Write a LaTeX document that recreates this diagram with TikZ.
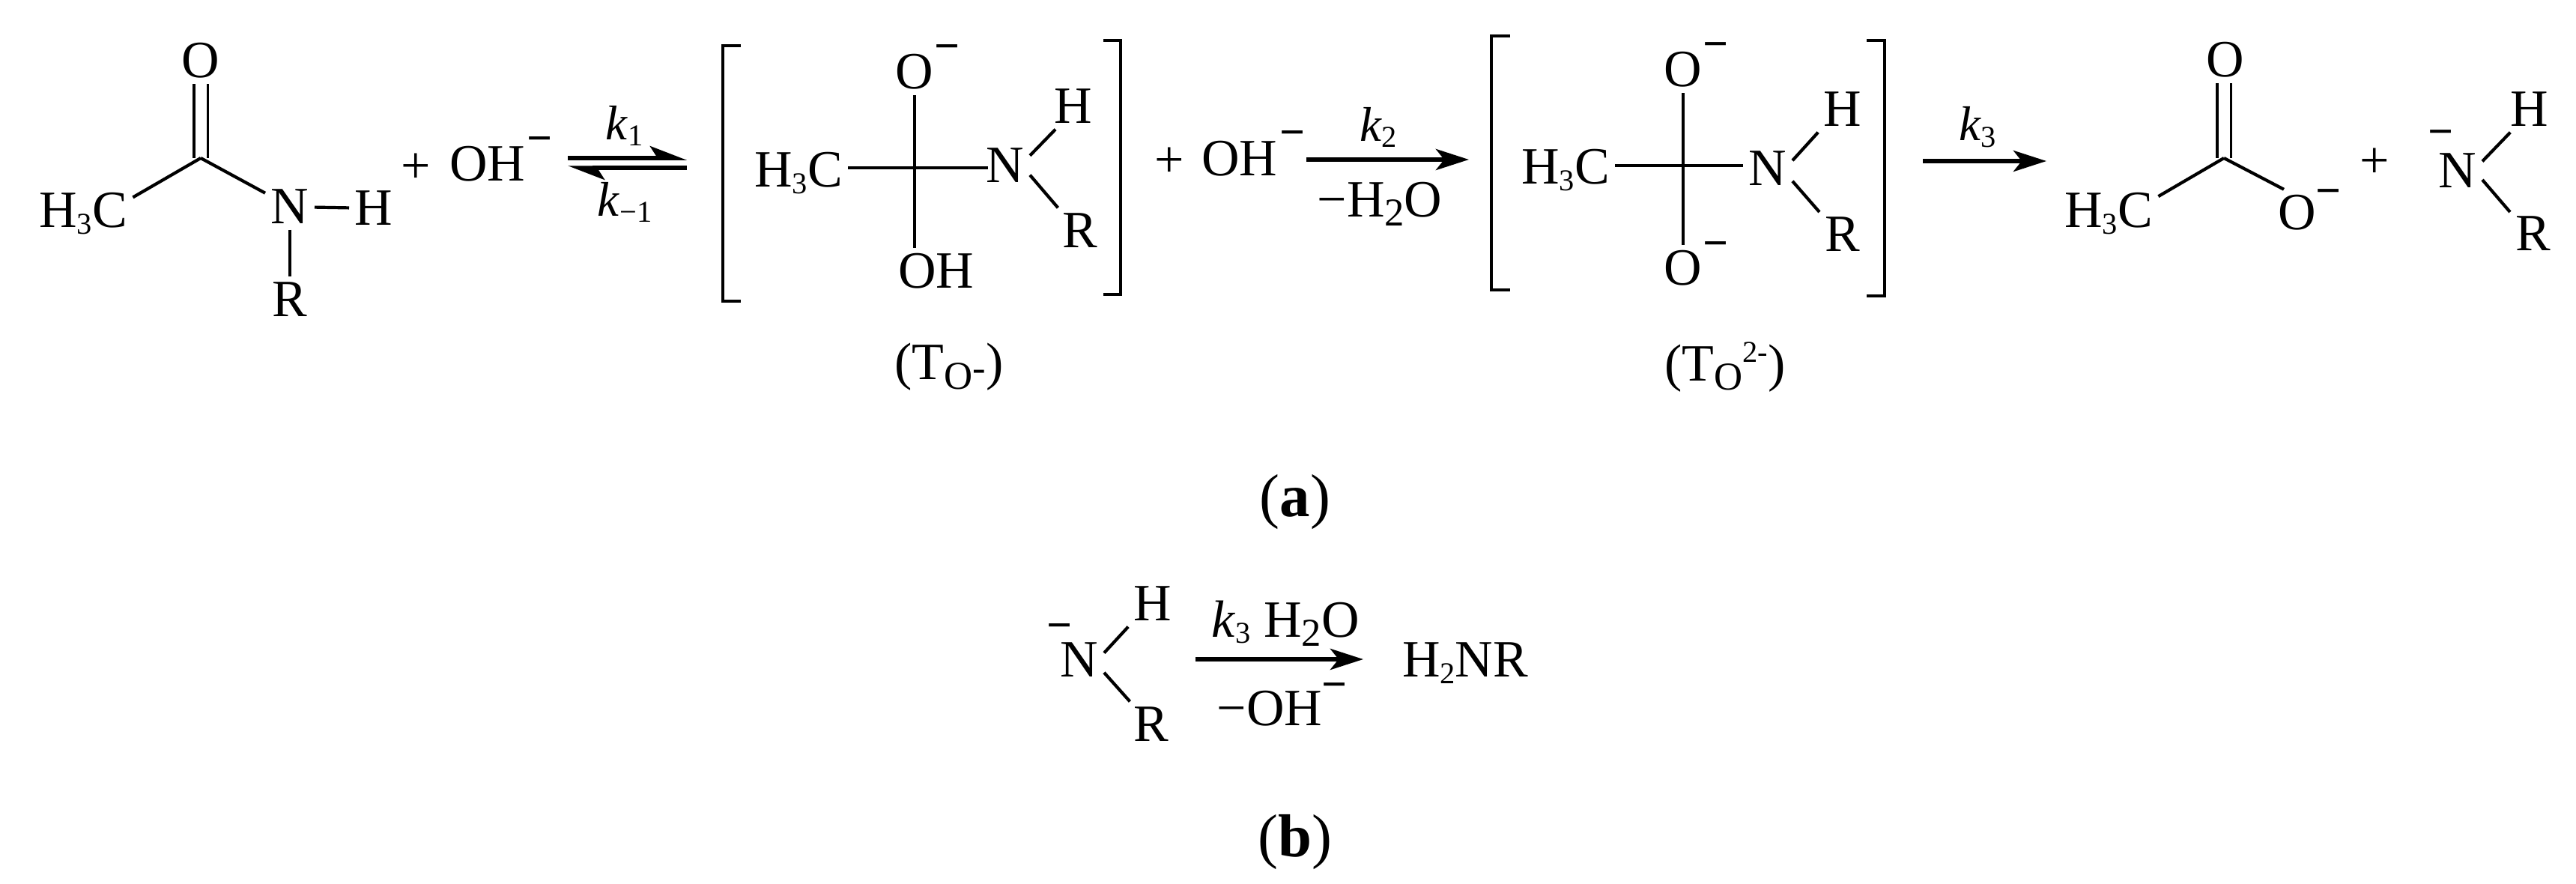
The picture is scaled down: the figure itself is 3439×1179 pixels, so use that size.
\documentclass[tikz,border=0pt]{standalone}
\usepackage{fontspec}
\setmainfont{Liberation Serif}
\usetikzlibrary{arrows.meta}
\newcommand{\subs}[1]{\raisebox{-2.5pt}{\fontsize{11.5}{12}\selectfont #1}}
\newcommand{\subl}[1]{\raisebox{-3.5pt}{\fontsize{15}{15}\selectfont #1}}
\tikzset{
atom/.style={inner sep=2pt,font=\fontsize{19.9}{24}\selectfont},
chg/.style={inner sep=0pt,font=\fontsize{17}{20}\selectfont\bfseries},
rate/.style={inner sep=0pt,font=\fontsize{18.5}{22}\selectfont},
tag/.style={inner sep=0pt,font=\fontsize{23}{27}\selectfont},
bond/.style={line width=.42mm},
bracket/.style={line width=.42mm,miter limit=10},
dbond/.style={line width=.38mm,double,double distance=1.5mm},
react/.style={line width=.6mm,-{Stealth[length=4.4mm,width=2.8mm,inset=1.1mm]}},
equil/.style={line width=.55mm,-{Stealth[harpoon,length=4.2mm,width=3.2mm,inset=1mm]}}
}
\begin{document}
\begin{tikzpicture}[x=.1mm,y=-.1mm]
\useasboundingbox (0,0) rectangle (3439,1179);
\coordinate (c1) at (268,211);
\node[atom] (o1) at (268,81) {O};
\node[atom] (me1) at (111,285) {H\subs{3}C};
\node[atom] (n1) at (387,276) {N};
\node[atom] (h1) at (499,278) {H};
\node[atom] (r1) at (387,400) {R};
\draw[dbond] (o1) -- (c1);
\draw[bond] (c1) -- (me1.18);
\draw[bond] (c1) -- (n1.151);
\draw[bond] (n1) -- (h1);
\draw[bond] (n1) -- (r1);
\node[atom] (p1) at (555,225) {+};
\node[atom] (oh1) at (651,219) {OH};
\node[chg] (q1) at (721,194) {−};
\coordinate (eq1a) at (758,211);
\coordinate (eq1b) at (917,211);
\coordinate (eq2a) at (917,224);
\coordinate (eq2b) at (758,224);
\draw[equil] (eq1a) -- (eq1b);
\draw[equil] (eq2a) -- (eq2b);
\node[rate] (k1) at (834,168) {\textit{k}\subs{1}};
\node[rate] (km1) at (834,270) {\textit{k}\subs{−1}};
\draw[bracket] (989,61) -- (965,61) -- (965,402) -- (989,402);
\coordinate (c2) at (1221,224);
\node[atom] (me2) at (1066,231) {H\subs{3}C};
\node[atom] (o2) at (1221,96) {O};
\node[chg] (q2) at (1265,71) {−};
\node[atom] (oh2) at (1250,362) {OH};
\node[atom] (n2) at (1342,221) {N};
\node[atom] (h2) at (1433,142) {H};
\node[atom] (r2) at (1442,308) {R};
\draw[bond,shorten >=-1mm] (me2.east |- c2) -- (n2.west |- c2);
\draw[bond] (o2) -- (c2);
\draw[bond] (c2) -- (c2 |- oh2.north);
\draw[bond] (n2.22) -- (h2.232);
\draw[bond] (n2.339) -- (r2.134);
\draw[bracket] (1473,54) -- (1496,54) -- (1496,393) -- (1473,393);
\node[atom] (t1) at (1267,490) {(T\subl{O\raisebox{3pt}{-}})};
\node[atom] (p2) at (1561,217) {+};
\node[atom] (oh3) at (1655,212) {OH};
\node[chg] (q3) at (1726,186) {−};
\coordinate (a2a) at (1744,213);
\coordinate (a2b) at (1961,213);
\draw[react] (a2a) -- (a2b);
\node[rate] (k2) at (1840,170) {\textit{k}\subs{2}};
\node[atom] (w1) at (1842,272) {−H\subl{2}O};
\draw[bracket] (2016,48) -- (1991,48) -- (1991,387) -- (2016,387);
\coordinate (c3) at (2247,221);
\node[atom] (me3) at (2090,227) {H\subs{3}C};
\node[atom] (o3) at (2247,93) {O};
\node[chg] (q4) at (2291,68) {−};
\node[atom] (o4) at (2247,358) {O};
\node[chg] (q5) at (2291,334) {−};
\node[atom] (n3) at (2360,225) {N};
\node[atom] (h3) at (2460,146) {H};
\node[atom] (r3) at (2460,313) {R};
\draw[bond] (me3.east |- c3) -- (n3.west |- c3);
\draw[bond] (o3) -- (o4);
\draw[bond] (n3.18) -- (h3.223);
\draw[bond] (n3.333) -- (r3.136);
\draw[bracket] (2492,54) -- (2516,54) -- (2516,395) -- (2492,395);
\node[atom] (t2) at (2303,490) {(T\subl{O}\raisebox{7pt}{\fontsize{11.5}{12}\selectfont 2-})};
\coordinate (a3a) at (2567,215);
\coordinate (a3b) at (2732,215);
\draw[react] (a3a) -- (a3b);
\node[rate] (k3) at (2640,170) {\textit{k}\subs{3}};
\coordinate (c4) at (2969,211);
\node[atom] (o5) at (2971,80) {O};
\node[atom] (me4) at (2815,285) {H\subs{3}C};
\node[atom] (o6) at (3067,284) {O};
\node[chg] (q6) at (3108,264) {−};
\draw[dbond] (c4 |- o5.south) -- (c4);
\draw[bond] (c4) -- (me4.19);
\draw[bond] (c4) -- (o6.120);
\node[atom] (p3) at (3170,218) {+};
\node[chg] (q7) at (3258,185) {−};
\node[atom] (n4) at (3281,228) {N};
\node[atom] (h4) at (3377,146) {H};
\node[atom] (r4) at (3382,312) {R};
\draw[bond] (n4.21) -- (h4.230);
\draw[bond] (n4.340) -- (r4.137);
\node[tag] (ta) at (1729,670) {(\textbf{a})};
\node[chg] (q8) at (1415,844) {−};
\node[atom] (n5) at (1441,881) {N};
\node[atom] (h5) at (1539,806) {H};
\node[atom] (r5) at (1537,967) {R};
\draw[bond] (n5.16) -- (h5.223);
\draw[bond] (n5.333) -- (r5.133);
\coordinate (a4a) at (1596,880);
\coordinate (a4b) at (1820,880);
\draw[react] (a4a) -- (a4b);
\node[atom] (w2) at (1716,832) {\textit{k}\subs{3}~H\subl{2}O};
\node[atom] (w3) at (1695,946) {−OH};
\node[chg] (q9) at (1782,923) {−};
\node[atom] (pr) at (1956,885) {H\subs{2}NR};
\node[tag] (tb) at (1729,1124) {(\textbf{b})};
\end{tikzpicture}
\end{document}
